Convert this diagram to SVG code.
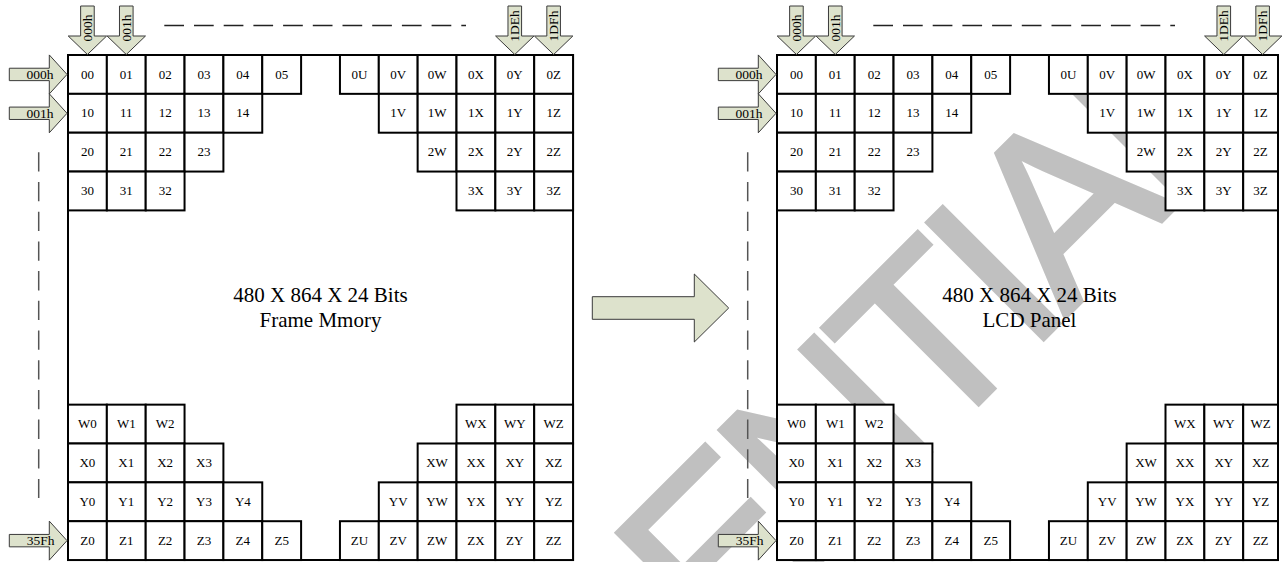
<svg xmlns="http://www.w3.org/2000/svg" xmlns:xlink="http://www.w3.org/1999/xlink" width="1283" height="562" viewBox="0 0 1283 562">
<style>
.c{fill:#fff;stroke:#000;stroke-width:2}
.t{font-family:"Liberation Serif","Times New Roman",serif;font-size:13px;text-anchor:middle;fill:#000}
.frame{fill:none;stroke:#000;stroke-width:2}
.arr{fill:#dde2cc;stroke:#3a3a3a;stroke-width:1}
.al{font-family:"Liberation Serif","Times New Roman",serif;font-size:13.5px;fill:#000}
.big{font-family:"Liberation Serif","Times New Roman",serif;font-size:21px;text-anchor:middle;fill:#000}
.dh{stroke:#222;stroke-width:1.5;stroke-dasharray:19.7 10;fill:none}
.dv{stroke:#555;stroke-width:1.5;stroke-dasharray:19.3 10.4;fill:none}
.wm{font-family:"Liberation Sans",Arial,sans-serif;font-size:240px;fill:#c0c0c0;stroke:#c0c0c0;stroke-width:4;letter-spacing:-14.5px}
</style>
<defs>
<polygon id="darrow" points="-6.8,6 6.8,6 6.8,36 19.2,36 0,54.5 -19.2,36 -6.8,36"/>
<polygon id="rarrow" points="9.3,-6.2 49.3,-6.2 49.3,-19.5 67,0 49.3,19.5 49.3,6.2 9.3,6.2"/>
</defs>
<rect width="1283" height="562" fill="#fff"/>
<g id="watermark"><text class="wm" transform="translate(1065,318) rotate(-45)" x="-1321.7" y="0">CONFIDENTIAL</text></g>

<g id="panel-left">
<rect id="frame-left" class="frame" x="68" y="55" width="505.05" height="505"/>
<g id="L-00"><rect class="c" x="68" y="55" width="38.85" height="38.85"/><text class="t" x="87.43" y="78.5">00</text></g>
<g id="L-01"><rect class="c" x="106.85" y="55" width="38.85" height="38.85"/><text class="t" x="126.28" y="78.5">01</text></g>
<g id="L-02"><rect class="c" x="145.7" y="55" width="38.85" height="38.85"/><text class="t" x="165.13" y="78.5">02</text></g>
<g id="L-03"><rect class="c" x="184.55" y="55" width="38.85" height="38.85"/><text class="t" x="203.98" y="78.5">03</text></g>
<g id="L-04"><rect class="c" x="223.4" y="55" width="38.85" height="38.85"/><text class="t" x="242.83" y="78.5">04</text></g>
<g id="L-05"><rect class="c" x="262.25" y="55" width="38.85" height="38.85"/><text class="t" x="281.68" y="78.5">05</text></g>
<g id="L-0U"><rect class="c" x="339.95" y="55" width="38.85" height="38.85"/><text class="t" x="359.38" y="78.5">0U</text></g>
<g id="L-0V"><rect class="c" x="378.8" y="55" width="38.85" height="38.85"/><text class="t" x="398.23" y="78.5">0V</text></g>
<g id="L-0W"><rect class="c" x="417.65" y="55" width="38.85" height="38.85"/><text class="t" x="437.08" y="78.5">0W</text></g>
<g id="L-0X"><rect class="c" x="456.5" y="55" width="38.85" height="38.85"/><text class="t" x="475.93" y="78.5">0X</text></g>
<g id="L-0Y"><rect class="c" x="495.35" y="55" width="38.85" height="38.85"/><text class="t" x="514.78" y="78.5">0Y</text></g>
<g id="L-0Z"><rect class="c" x="534.2" y="55" width="38.85" height="38.85"/><text class="t" x="553.63" y="78.5">0Z</text></g>

<g id="L-10"><rect class="c" x="68" y="93.85" width="38.85" height="38.85"/><text class="t" x="87.43" y="117.35">10</text></g>
<g id="L-11"><rect class="c" x="106.85" y="93.85" width="38.85" height="38.85"/><text class="t" x="126.28" y="117.35">11</text></g>
<g id="L-12"><rect class="c" x="145.7" y="93.85" width="38.85" height="38.85"/><text class="t" x="165.13" y="117.35">12</text></g>
<g id="L-13"><rect class="c" x="184.55" y="93.85" width="38.85" height="38.85"/><text class="t" x="203.98" y="117.35">13</text></g>
<g id="L-14"><rect class="c" x="223.4" y="93.85" width="38.85" height="38.85"/><text class="t" x="242.83" y="117.35">14</text></g>
<g id="L-1V"><rect class="c" x="378.8" y="93.85" width="38.85" height="38.85"/><text class="t" x="398.23" y="117.35">1V</text></g>
<g id="L-1W"><rect class="c" x="417.65" y="93.85" width="38.85" height="38.85"/><text class="t" x="437.08" y="117.35">1W</text></g>
<g id="L-1X"><rect class="c" x="456.5" y="93.85" width="38.85" height="38.85"/><text class="t" x="475.93" y="117.35">1X</text></g>
<g id="L-1Y"><rect class="c" x="495.35" y="93.85" width="38.85" height="38.85"/><text class="t" x="514.78" y="117.35">1Y</text></g>
<g id="L-1Z"><rect class="c" x="534.2" y="93.85" width="38.85" height="38.85"/><text class="t" x="553.63" y="117.35">1Z</text></g>

<g id="L-20"><rect class="c" x="68" y="132.7" width="38.85" height="38.85"/><text class="t" x="87.43" y="156.2">20</text></g>
<g id="L-21"><rect class="c" x="106.85" y="132.7" width="38.85" height="38.85"/><text class="t" x="126.28" y="156.2">21</text></g>
<g id="L-22"><rect class="c" x="145.7" y="132.7" width="38.85" height="38.85"/><text class="t" x="165.13" y="156.2">22</text></g>
<g id="L-23"><rect class="c" x="184.55" y="132.7" width="38.85" height="38.85"/><text class="t" x="203.98" y="156.2">23</text></g>
<g id="L-2W"><rect class="c" x="417.65" y="132.7" width="38.85" height="38.85"/><text class="t" x="437.08" y="156.2">2W</text></g>
<g id="L-2X"><rect class="c" x="456.5" y="132.7" width="38.85" height="38.85"/><text class="t" x="475.93" y="156.2">2X</text></g>
<g id="L-2Y"><rect class="c" x="495.35" y="132.7" width="38.85" height="38.85"/><text class="t" x="514.78" y="156.2">2Y</text></g>
<g id="L-2Z"><rect class="c" x="534.2" y="132.7" width="38.85" height="38.85"/><text class="t" x="553.63" y="156.2">2Z</text></g>

<g id="L-30"><rect class="c" x="68" y="171.55" width="38.85" height="38.85"/><text class="t" x="87.43" y="195.05">30</text></g>
<g id="L-31"><rect class="c" x="106.85" y="171.55" width="38.85" height="38.85"/><text class="t" x="126.28" y="195.05">31</text></g>
<g id="L-32"><rect class="c" x="145.7" y="171.55" width="38.85" height="38.85"/><text class="t" x="165.13" y="195.05">32</text></g>
<g id="L-3X"><rect class="c" x="456.5" y="171.55" width="38.85" height="38.85"/><text class="t" x="475.93" y="195.05">3X</text></g>
<g id="L-3Y"><rect class="c" x="495.35" y="171.55" width="38.85" height="38.85"/><text class="t" x="514.78" y="195.05">3Y</text></g>
<g id="L-3Z"><rect class="c" x="534.2" y="171.55" width="38.85" height="38.85"/><text class="t" x="553.63" y="195.05">3Z</text></g>

<g id="L-W0"><rect class="c" x="68" y="404.65" width="38.85" height="38.85"/><text class="t" x="87.43" y="428.15">W0</text></g>
<g id="L-W1"><rect class="c" x="106.85" y="404.65" width="38.85" height="38.85"/><text class="t" x="126.28" y="428.15">W1</text></g>
<g id="L-W2"><rect class="c" x="145.7" y="404.65" width="38.85" height="38.85"/><text class="t" x="165.13" y="428.15">W2</text></g>
<g id="L-WX"><rect class="c" x="456.5" y="404.65" width="38.85" height="38.85"/><text class="t" x="475.93" y="428.15">WX</text></g>
<g id="L-WY"><rect class="c" x="495.35" y="404.65" width="38.85" height="38.85"/><text class="t" x="514.78" y="428.15">WY</text></g>
<g id="L-WZ"><rect class="c" x="534.2" y="404.65" width="38.85" height="38.85"/><text class="t" x="553.63" y="428.15">WZ</text></g>

<g id="L-X0"><rect class="c" x="68" y="443.5" width="38.85" height="38.85"/><text class="t" x="87.43" y="467">X0</text></g>
<g id="L-X1"><rect class="c" x="106.85" y="443.5" width="38.85" height="38.85"/><text class="t" x="126.28" y="467">X1</text></g>
<g id="L-X2"><rect class="c" x="145.7" y="443.5" width="38.85" height="38.85"/><text class="t" x="165.13" y="467">X2</text></g>
<g id="L-X3"><rect class="c" x="184.55" y="443.5" width="38.85" height="38.85"/><text class="t" x="203.98" y="467">X3</text></g>
<g id="L-XW"><rect class="c" x="417.65" y="443.5" width="38.85" height="38.85"/><text class="t" x="437.08" y="467">XW</text></g>
<g id="L-XX"><rect class="c" x="456.5" y="443.5" width="38.85" height="38.85"/><text class="t" x="475.93" y="467">XX</text></g>
<g id="L-XY"><rect class="c" x="495.35" y="443.5" width="38.85" height="38.85"/><text class="t" x="514.78" y="467">XY</text></g>
<g id="L-XZ"><rect class="c" x="534.2" y="443.5" width="38.85" height="38.85"/><text class="t" x="553.63" y="467">XZ</text></g>

<g id="L-Y0"><rect class="c" x="68" y="482.35" width="38.85" height="38.85"/><text class="t" x="87.43" y="505.85">Y0</text></g>
<g id="L-Y1"><rect class="c" x="106.85" y="482.35" width="38.85" height="38.85"/><text class="t" x="126.28" y="505.85">Y1</text></g>
<g id="L-Y2"><rect class="c" x="145.7" y="482.35" width="38.85" height="38.85"/><text class="t" x="165.13" y="505.85">Y2</text></g>
<g id="L-Y3"><rect class="c" x="184.55" y="482.35" width="38.85" height="38.85"/><text class="t" x="203.98" y="505.85">Y3</text></g>
<g id="L-Y4"><rect class="c" x="223.4" y="482.35" width="38.85" height="38.85"/><text class="t" x="242.83" y="505.85">Y4</text></g>
<g id="L-YV"><rect class="c" x="378.8" y="482.35" width="38.85" height="38.85"/><text class="t" x="398.23" y="505.85">YV</text></g>
<g id="L-YW"><rect class="c" x="417.65" y="482.35" width="38.85" height="38.85"/><text class="t" x="437.08" y="505.85">YW</text></g>
<g id="L-YX"><rect class="c" x="456.5" y="482.35" width="38.85" height="38.85"/><text class="t" x="475.93" y="505.85">YX</text></g>
<g id="L-YY"><rect class="c" x="495.35" y="482.35" width="38.85" height="38.85"/><text class="t" x="514.78" y="505.85">YY</text></g>
<g id="L-YZ"><rect class="c" x="534.2" y="482.35" width="38.85" height="38.85"/><text class="t" x="553.63" y="505.85">YZ</text></g>

<g id="L-Z0"><rect class="c" x="68" y="521.2" width="38.85" height="38.85"/><text class="t" x="87.43" y="544.7">Z0</text></g>
<g id="L-Z1"><rect class="c" x="106.85" y="521.2" width="38.85" height="38.85"/><text class="t" x="126.28" y="544.7">Z1</text></g>
<g id="L-Z2"><rect class="c" x="145.7" y="521.2" width="38.85" height="38.85"/><text class="t" x="165.13" y="544.7">Z2</text></g>
<g id="L-Z3"><rect class="c" x="184.55" y="521.2" width="38.85" height="38.85"/><text class="t" x="203.98" y="544.7">Z3</text></g>
<g id="L-Z4"><rect class="c" x="223.4" y="521.2" width="38.85" height="38.85"/><text class="t" x="242.83" y="544.7">Z4</text></g>
<g id="L-Z5"><rect class="c" x="262.25" y="521.2" width="38.85" height="38.85"/><text class="t" x="281.68" y="544.7">Z5</text></g>
<g id="L-ZU"><rect class="c" x="339.95" y="521.2" width="38.85" height="38.85"/><text class="t" x="359.38" y="544.7">ZU</text></g>
<g id="L-ZV"><rect class="c" x="378.8" y="521.2" width="38.85" height="38.85"/><text class="t" x="398.23" y="544.7">ZV</text></g>
<g id="L-ZW"><rect class="c" x="417.65" y="521.2" width="38.85" height="38.85"/><text class="t" x="437.08" y="544.7">ZW</text></g>
<g id="L-ZX"><rect class="c" x="456.5" y="521.2" width="38.85" height="38.85"/><text class="t" x="475.93" y="544.7">ZX</text></g>
<g id="L-ZY"><rect class="c" x="495.35" y="521.2" width="38.85" height="38.85"/><text class="t" x="514.78" y="544.7">ZY</text></g>
<g id="L-ZZ"><rect class="c" x="534.2" y="521.2" width="38.85" height="38.85"/><text class="t" x="553.63" y="544.7">ZZ</text></g>

<g id="L-title"><text class="big" x="320.5" y="302">480 X 864 X 24 Bits</text><text class="big" x="320.5" y="327">Frame Mmory</text></g>
</g>

<g id="panel-right">
<rect id="frame-right" class="frame" x="777" y="55" width="501" height="505"/>
<g id="R-00"><rect class="c" x="777" y="55" width="38.85" height="38.85"/><text class="t" x="796.43" y="78.5">00</text></g>
<g id="R-01"><rect class="c" x="815.85" y="55" width="38.85" height="38.85"/><text class="t" x="835.28" y="78.5">01</text></g>
<g id="R-02"><rect class="c" x="854.7" y="55" width="38.85" height="38.85"/><text class="t" x="874.13" y="78.5">02</text></g>
<g id="R-03"><rect class="c" x="893.55" y="55" width="38.85" height="38.85"/><text class="t" x="912.98" y="78.5">03</text></g>
<g id="R-04"><rect class="c" x="932.4" y="55" width="38.85" height="38.85"/><text class="t" x="951.83" y="78.5">04</text></g>
<g id="R-05"><rect class="c" x="971.25" y="55" width="38.85" height="38.85"/><text class="t" x="990.68" y="78.5">05</text></g>
<g id="R-0U"><rect class="c" x="1048.95" y="55" width="38.85" height="38.85"/><text class="t" x="1068.38" y="78.5">0U</text></g>
<g id="R-0V"><rect class="c" x="1087.8" y="55" width="38.85" height="38.85"/><text class="t" x="1107.23" y="78.5">0V</text></g>
<g id="R-0W"><rect class="c" x="1126.65" y="55" width="38.85" height="38.85"/><text class="t" x="1146.08" y="78.5">0W</text></g>
<g id="R-0X"><rect class="c" x="1165.5" y="55" width="38.85" height="38.85"/><text class="t" x="1184.93" y="78.5">0X</text></g>
<g id="R-0Y"><rect class="c" x="1204.35" y="55" width="38.85" height="38.85"/><text class="t" x="1223.78" y="78.5">0Y</text></g>
<g id="R-0Z"><rect class="c" x="1243.2" y="55" width="34.8" height="38.85"/><text class="t" x="1260.6" y="78.5">0Z</text></g>

<g id="R-10"><rect class="c" x="777" y="93.85" width="38.85" height="38.85"/><text class="t" x="796.43" y="117.35">10</text></g>
<g id="R-11"><rect class="c" x="815.85" y="93.85" width="38.85" height="38.85"/><text class="t" x="835.28" y="117.35">11</text></g>
<g id="R-12"><rect class="c" x="854.7" y="93.85" width="38.85" height="38.85"/><text class="t" x="874.13" y="117.35">12</text></g>
<g id="R-13"><rect class="c" x="893.55" y="93.85" width="38.85" height="38.85"/><text class="t" x="912.98" y="117.35">13</text></g>
<g id="R-14"><rect class="c" x="932.4" y="93.85" width="38.85" height="38.85"/><text class="t" x="951.83" y="117.35">14</text></g>
<g id="R-1V"><rect class="c" x="1087.8" y="93.85" width="38.85" height="38.85"/><text class="t" x="1107.23" y="117.35">1V</text></g>
<g id="R-1W"><rect class="c" x="1126.65" y="93.85" width="38.85" height="38.85"/><text class="t" x="1146.08" y="117.35">1W</text></g>
<g id="R-1X"><rect class="c" x="1165.5" y="93.85" width="38.85" height="38.85"/><text class="t" x="1184.93" y="117.35">1X</text></g>
<g id="R-1Y"><rect class="c" x="1204.35" y="93.85" width="38.85" height="38.85"/><text class="t" x="1223.78" y="117.35">1Y</text></g>
<g id="R-1Z"><rect class="c" x="1243.2" y="93.85" width="34.8" height="38.85"/><text class="t" x="1260.6" y="117.35">1Z</text></g>

<g id="R-20"><rect class="c" x="777" y="132.7" width="38.85" height="38.85"/><text class="t" x="796.43" y="156.2">20</text></g>
<g id="R-21"><rect class="c" x="815.85" y="132.7" width="38.85" height="38.85"/><text class="t" x="835.28" y="156.2">21</text></g>
<g id="R-22"><rect class="c" x="854.7" y="132.7" width="38.85" height="38.85"/><text class="t" x="874.13" y="156.2">22</text></g>
<g id="R-23"><rect class="c" x="893.55" y="132.7" width="38.85" height="38.85"/><text class="t" x="912.98" y="156.2">23</text></g>
<g id="R-2W"><rect class="c" x="1126.65" y="132.7" width="38.85" height="38.85"/><text class="t" x="1146.08" y="156.2">2W</text></g>
<g id="R-2X"><rect class="c" x="1165.5" y="132.7" width="38.85" height="38.85"/><text class="t" x="1184.93" y="156.2">2X</text></g>
<g id="R-2Y"><rect class="c" x="1204.35" y="132.7" width="38.85" height="38.85"/><text class="t" x="1223.78" y="156.2">2Y</text></g>
<g id="R-2Z"><rect class="c" x="1243.2" y="132.7" width="34.8" height="38.85"/><text class="t" x="1260.6" y="156.2">2Z</text></g>

<g id="R-30"><rect class="c" x="777" y="171.55" width="38.85" height="38.85"/><text class="t" x="796.43" y="195.05">30</text></g>
<g id="R-31"><rect class="c" x="815.85" y="171.55" width="38.85" height="38.85"/><text class="t" x="835.28" y="195.05">31</text></g>
<g id="R-32"><rect class="c" x="854.7" y="171.55" width="38.85" height="38.85"/><text class="t" x="874.13" y="195.05">32</text></g>
<g id="R-3X"><rect class="c" x="1165.5" y="171.55" width="38.85" height="38.85"/><text class="t" x="1184.93" y="195.05">3X</text></g>
<g id="R-3Y"><rect class="c" x="1204.35" y="171.55" width="38.85" height="38.85"/><text class="t" x="1223.78" y="195.05">3Y</text></g>
<g id="R-3Z"><rect class="c" x="1243.2" y="171.55" width="34.8" height="38.85"/><text class="t" x="1260.6" y="195.05">3Z</text></g>

<g id="R-W0"><rect class="c" x="777" y="404.65" width="38.85" height="38.85"/><text class="t" x="796.43" y="428.15">W0</text></g>
<g id="R-W1"><rect class="c" x="815.85" y="404.65" width="38.85" height="38.85"/><text class="t" x="835.28" y="428.15">W1</text></g>
<g id="R-W2"><rect class="c" x="854.7" y="404.65" width="38.85" height="38.85"/><text class="t" x="874.13" y="428.15">W2</text></g>
<g id="R-WX"><rect class="c" x="1165.5" y="404.65" width="38.85" height="38.85"/><text class="t" x="1184.93" y="428.15">WX</text></g>
<g id="R-WY"><rect class="c" x="1204.35" y="404.65" width="38.85" height="38.85"/><text class="t" x="1223.78" y="428.15">WY</text></g>
<g id="R-WZ"><rect class="c" x="1243.2" y="404.65" width="34.8" height="38.85"/><text class="t" x="1260.6" y="428.15">WZ</text></g>

<g id="R-X0"><rect class="c" x="777" y="443.5" width="38.85" height="38.85"/><text class="t" x="796.43" y="467">X0</text></g>
<g id="R-X1"><rect class="c" x="815.85" y="443.5" width="38.85" height="38.85"/><text class="t" x="835.28" y="467">X1</text></g>
<g id="R-X2"><rect class="c" x="854.7" y="443.5" width="38.85" height="38.85"/><text class="t" x="874.13" y="467">X2</text></g>
<g id="R-X3"><rect class="c" x="893.55" y="443.5" width="38.85" height="38.85"/><text class="t" x="912.98" y="467">X3</text></g>
<g id="R-XW"><rect class="c" x="1126.65" y="443.5" width="38.85" height="38.85"/><text class="t" x="1146.08" y="467">XW</text></g>
<g id="R-XX"><rect class="c" x="1165.5" y="443.5" width="38.85" height="38.85"/><text class="t" x="1184.93" y="467">XX</text></g>
<g id="R-XY"><rect class="c" x="1204.35" y="443.5" width="38.85" height="38.85"/><text class="t" x="1223.78" y="467">XY</text></g>
<g id="R-XZ"><rect class="c" x="1243.2" y="443.5" width="34.8" height="38.85"/><text class="t" x="1260.6" y="467">XZ</text></g>

<g id="R-Y0"><rect class="c" x="777" y="482.35" width="38.85" height="38.85"/><text class="t" x="796.43" y="505.85">Y0</text></g>
<g id="R-Y1"><rect class="c" x="815.85" y="482.35" width="38.85" height="38.85"/><text class="t" x="835.28" y="505.85">Y1</text></g>
<g id="R-Y2"><rect class="c" x="854.7" y="482.35" width="38.85" height="38.85"/><text class="t" x="874.13" y="505.85">Y2</text></g>
<g id="R-Y3"><rect class="c" x="893.55" y="482.35" width="38.85" height="38.85"/><text class="t" x="912.98" y="505.85">Y3</text></g>
<g id="R-Y4"><rect class="c" x="932.4" y="482.35" width="38.85" height="38.85"/><text class="t" x="951.83" y="505.85">Y4</text></g>
<g id="R-YV"><rect class="c" x="1087.8" y="482.35" width="38.85" height="38.85"/><text class="t" x="1107.23" y="505.85">YV</text></g>
<g id="R-YW"><rect class="c" x="1126.65" y="482.35" width="38.85" height="38.85"/><text class="t" x="1146.08" y="505.85">YW</text></g>
<g id="R-YX"><rect class="c" x="1165.5" y="482.35" width="38.85" height="38.85"/><text class="t" x="1184.93" y="505.85">YX</text></g>
<g id="R-YY"><rect class="c" x="1204.35" y="482.35" width="38.85" height="38.85"/><text class="t" x="1223.78" y="505.85">YY</text></g>
<g id="R-YZ"><rect class="c" x="1243.2" y="482.35" width="34.8" height="38.85"/><text class="t" x="1260.6" y="505.85">YZ</text></g>

<g id="R-Z0"><rect class="c" x="777" y="521.2" width="38.85" height="38.85"/><text class="t" x="796.43" y="544.7">Z0</text></g>
<g id="R-Z1"><rect class="c" x="815.85" y="521.2" width="38.85" height="38.85"/><text class="t" x="835.28" y="544.7">Z1</text></g>
<g id="R-Z2"><rect class="c" x="854.7" y="521.2" width="38.85" height="38.85"/><text class="t" x="874.13" y="544.7">Z2</text></g>
<g id="R-Z3"><rect class="c" x="893.55" y="521.2" width="38.85" height="38.85"/><text class="t" x="912.98" y="544.7">Z3</text></g>
<g id="R-Z4"><rect class="c" x="932.4" y="521.2" width="38.85" height="38.85"/><text class="t" x="951.83" y="544.7">Z4</text></g>
<g id="R-Z5"><rect class="c" x="971.25" y="521.2" width="38.85" height="38.85"/><text class="t" x="990.68" y="544.7">Z5</text></g>
<g id="R-ZU"><rect class="c" x="1048.95" y="521.2" width="38.85" height="38.85"/><text class="t" x="1068.38" y="544.7">ZU</text></g>
<g id="R-ZV"><rect class="c" x="1087.8" y="521.2" width="38.85" height="38.85"/><text class="t" x="1107.23" y="544.7">ZV</text></g>
<g id="R-ZW"><rect class="c" x="1126.65" y="521.2" width="38.85" height="38.85"/><text class="t" x="1146.08" y="544.7">ZW</text></g>
<g id="R-ZX"><rect class="c" x="1165.5" y="521.2" width="38.85" height="38.85"/><text class="t" x="1184.93" y="544.7">ZX</text></g>
<g id="R-ZY"><rect class="c" x="1204.35" y="521.2" width="38.85" height="38.85"/><text class="t" x="1223.78" y="544.7">ZY</text></g>
<g id="R-ZZ"><rect class="c" x="1243.2" y="521.2" width="34.8" height="38.85"/><text class="t" x="1260.6" y="544.7">ZZ</text></g>

<g id="R-title"><text class="big" x="1029.5" y="302">480 X 864 X 24 Bits</text><text class="big" x="1029.5" y="327">LCD Panel</text></g>
</g>

<g id="connectors">
<polygon id="main-arrow" class="arr" points="592.3,296.7 694.3,296.7 694.3,274 728.7,308 694.3,342 694.3,319.3 592.3,319.3"/>
<line class="dh" x1="164.3" y1="25.5" x2="466" y2="25.5"/>
<line class="dh" x1="873.3" y1="25.5" x2="1175" y2="25.5"/>
<line class="dv" x1="38.7" y1="152.3" x2="38.7" y2="498"/>
<line class="dv" x1="747.7" y1="152.3" x2="747.7" y2="498"/>
</g>

<g id="addr-left">
<g id="LA-col000"><use xlink:href="#darrow" href="#darrow" class="arr" x="87.43"/><text class="al" text-anchor="middle" transform="translate(92,28) rotate(-90)">000h</text></g>
<g id="LA-col001"><use xlink:href="#darrow" href="#darrow" class="arr" x="126.28"/><text class="al" text-anchor="middle" transform="translate(130.8,28) rotate(-90)">001h</text></g>
<g id="LA-col1DE"><use xlink:href="#darrow" href="#darrow" class="arr" x="514.78"/><text class="al" text-anchor="middle" transform="translate(519.3,26) rotate(-90)">1DEh</text></g>
<g id="LA-col1DF"><use xlink:href="#darrow" href="#darrow" class="arr" x="553.63"/><text class="al" text-anchor="middle" transform="translate(558.1,26) rotate(-90)">1DFh</text></g>
<g id="LA-row000"><use xlink:href="#rarrow" href="#rarrow" class="arr" y="74.43"/><text class="al" text-anchor="end" x="53.5" y="79">000h</text></g>
<g id="LA-row001"><use xlink:href="#rarrow" href="#rarrow" class="arr" y="113.28"/><text class="al" text-anchor="end" x="53.5" y="117.8">001h</text></g>
<g id="LA-row35F"><use xlink:href="#rarrow" href="#rarrow" class="arr" y="540.63"/><text class="al" text-anchor="end" x="54.5" y="545.1">35Fh</text></g>
</g>

<g id="addr-right">
<g id="RA-col000"><use xlink:href="#darrow" href="#darrow" class="arr" x="796.43"/><text class="al" text-anchor="middle" transform="translate(801,28) rotate(-90)">000h</text></g>
<g id="RA-col001"><use xlink:href="#darrow" href="#darrow" class="arr" x="835.28"/><text class="al" text-anchor="middle" transform="translate(839.8,28) rotate(-90)">001h</text></g>
<g id="RA-col1DE"><use xlink:href="#darrow" href="#darrow" class="arr" x="1223.78"/><text class="al" text-anchor="middle" transform="translate(1228.3,26) rotate(-90)">1DEh</text></g>
<g id="RA-col1DF"><use xlink:href="#darrow" href="#darrow" class="arr" x="1262.63"/><text class="al" text-anchor="middle" transform="translate(1267.1,26) rotate(-90)">1DFh</text></g>
<g id="RA-row000"><use xlink:href="#rarrow" href="#rarrow" class="arr" x="709" y="74.43"/><text class="al" text-anchor="end" x="762.5" y="79">000h</text></g>
<g id="RA-row001"><use xlink:href="#rarrow" href="#rarrow" class="arr" x="709" y="113.28"/><text class="al" text-anchor="end" x="762.5" y="117.8">001h</text></g>
<g id="RA-row35F"><use xlink:href="#rarrow" href="#rarrow" class="arr" x="709" y="540.63"/><text class="al" text-anchor="end" x="763.5" y="545.1">35Fh</text></g>
</g>
</svg>
